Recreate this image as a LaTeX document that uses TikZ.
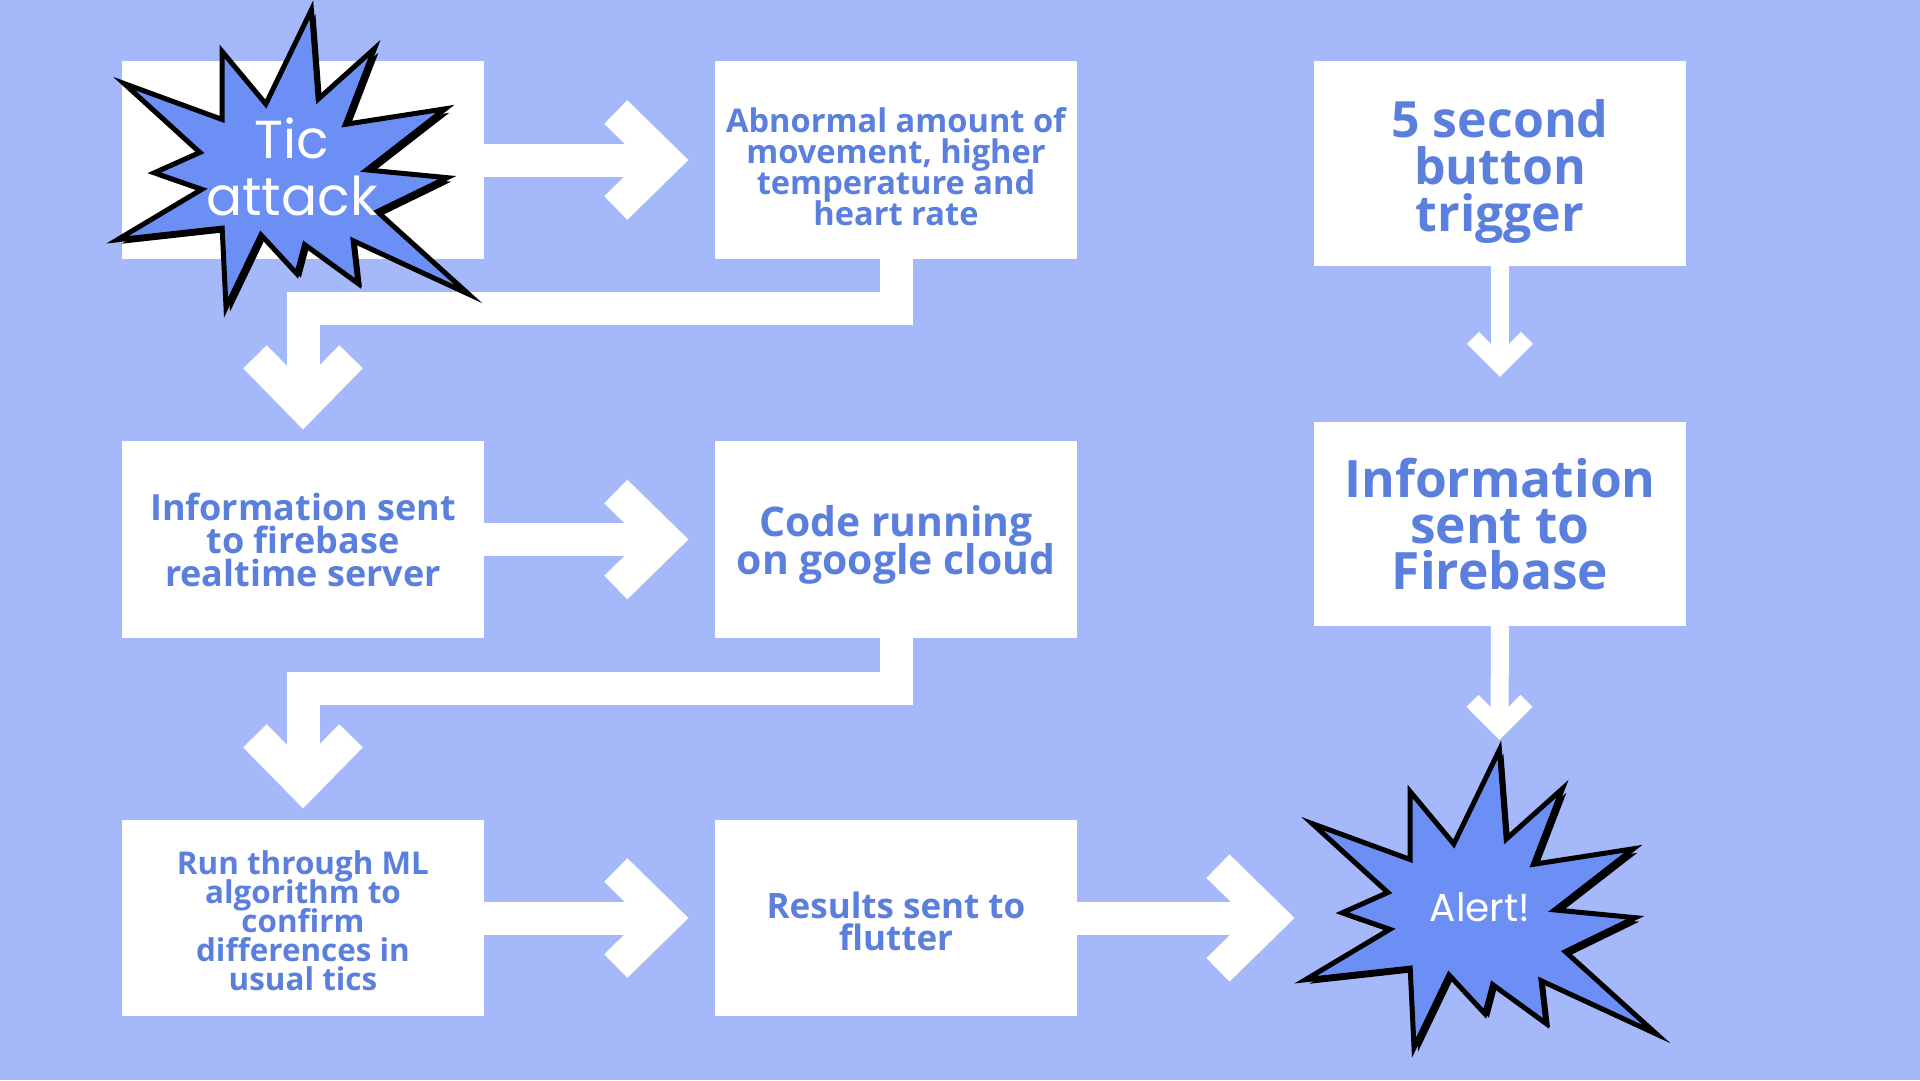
\documentclass[tikz,border=0pt]{standalone}
\usepackage{fontspec}
\setmainfont{Open Sans}
\newfontfamily\burstfont{Poppins}
\usetikzlibrary{positioning}
\definecolor{bgblue}{HTML}{A4B8FA}
\definecolor{txtblue}{HTML}{5B7FDD}
\definecolor{starblue}{HTML}{6B8FF5}
\newcommand{\boxfont}[2]{\bfseries\fontsize{#1}{#2}\selectfont\lineskiplimit=-100pt\relax}
\newcommand{\bangfont}[2]{\burstfont\fontsize{#1}{#2}\selectfont\lineskiplimit=-100pt\relax}
\tikzset{
  box/.style={fill=white, inner sep=0pt, minimum width=362pt, minimum height=198pt},
  boxlabel/.style={text=txtblue, align=center, inner sep=0pt},
  shaft/.style={draw=white, line width=33pt, shorten >=23pt},
  thinshaft/.style={draw=white, line width=18pt, shorten >=12pt},
  chev/.pic={\draw[white, line width=33pt, line join=miter] (-72,-48) -- (-23,0) -- (-72,48);},
  smallchev/.pic={\draw[white, line width=17pt, line join=miter] (-39,-27) -- (-12,0) -- (-39,27);},
  burst/.pic={
    \filldraw[fill=starblue, draw=black, line width=5pt, line join=miter,
      preaction={fill=black, transform canvas={xshift=4pt, yshift=-4pt}}]
      (20,-162) -- (27,-70) -- (85,-122) -- (55,-44) -- (158,-60) -- (77,3)
      -- (160,11) -- (88,46) -- (182,131) -- (63,76) -- (68,120) -- (13,80)
      -- (5,110) -- (-32,70) -- (-68,145) -- (-72,63) -- (-180,75) -- (-93,23)
      -- (-142,6) -- (-95,-15) -- (-173,-86) -- (-72,-49) -- (-72,-119) -- (-27,-65) -- cycle;
    \coordinate (-top) at (20,-162);
    \coordinate (-west) at (-190,14);
  },
  bursttext/.style={text=white, align=center, inner sep=0pt}
}
\begin{document}
\begin{tikzpicture}[x=1pt, y=-1pt]
\useasboundingbox (0,0) rectangle (1920,1080);
\fill[bgblue] (0,0) rectangle (1920,1080);
% boxes
\node[box] at (303,160) (A) {};
\node[box, label={[boxlabel, yshift=-6.7pt, font=\boxfont{32.6}{30.8}]center:{Abnormal amount of\\movement, higher\\temperature and\\heart rate}}] at (896,160) (B) {};
\node[box, minimum width=372pt, minimum height=205pt, label={[boxlabel, yshift=-9pt, font=\boxfont{50}{47}]center:{5 second\\button\\trigger}}] at (1500,163) (C) {};
\node[box, minimum width=372pt, minimum height=204pt, label={[boxlabel, font=\boxfont{51.5}{46}]center:{Information\\sent to\\Firebase}}] at (1500,524) (D) {};
\node[box, minimum height=197pt, label={[boxlabel, font=\boxfont{36}{33}]center:{Information sent\\to firebase\\realtime server}}] at (303,539.5) (E) {};
\node[box, minimum height=197pt, label={[boxlabel, yshift=-5pt, font=\boxfont{40.9}{38}]center:{Code running\\on google cloud}}] at (896,539.5) (F) {};
\node[box, minimum height=196pt, label={[boxlabel, yshift=-2.5pt, font=\boxfont{31.4}{29}]center:{Run through ML\\algorithm to\\confirm\\differences in\\usual tics}}] at (303,918) (G) {};
\node[box, minimum height=196pt, label={[boxlabel, yshift=-3pt, font=\boxfont{35}{32}]center:{Results sent to\\flutter}}] at (896,918) (H) {};
% arrows
\draw[shaft] (A.east) -- ([xshift=-27pt]B.west) coordinate (ab);
\pic at (ab) {chev};
\draw[shaft] (B.south) -- ++(0,49) -| ([yshift=12pt]E.north) coordinate (be);
\pic[rotate=-90] at (be) {chev};
\draw[shaft] (E.east) -- ([xshift=-27pt]F.west) coordinate (ef);
\pic at (ef) {chev};
\draw[shaft] (F.south) -- ++(0,50) -| ([yshift=12pt]G.north) coordinate (fg);
\pic[rotate=-90] at (fg) {chev};
\draw[shaft] (G.east) -- ([xshift=-27pt]H.west) coordinate (gh);
\pic at (gh) {chev};
\draw[thinshaft] (C.south) -- ([yshift=45pt]D.north) coordinate (cd);
\pic[rotate=-90] at (cd) {smallchev};
% bursts
\pic[scale=0.97] (tc) at (292,167) {burst};
\node[bursttext, font=\bangfont{53.5}{57}] at (292,167) (tic) {Tic\\attack};
\pic[scale=0.97] (al) at (1480,907) {burst};
\node[bursttext, font=\bangfont{39}{40}] at (1480,907) (alert) {Alert!};
\draw[thinshaft] (D.south) -- ([yshift=10pt]al-top) coordinate (da);
\pic[rotate=-90] at (da) {smallchev};
\draw[shaft] (H.east) -- (H.east -| al-west) coordinate (ha);
\pic[scale=1.08] at (ha) {chev};
\end{tikzpicture}
\end{document}
